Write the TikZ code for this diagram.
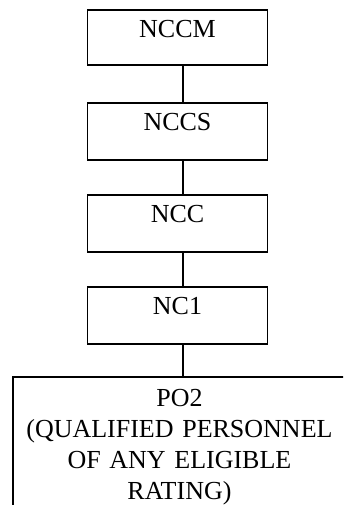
\documentclass[tikz,border=0pt]{standalone}
\usepackage{fontspec}
\setmainfont{Liberation Serif}
\usetikzlibrary{calc}

\tikzset{
  rank/.style={draw=black, line width=1.9pt, inner sep=0pt, text width=180pt,
    align=center, text height=28pt, text depth=29pt,
    font=\fontsize{26}{31}\selectfont},
  link/.style={draw=black, line width=1.9pt}
}

\begin{document}
\begin{tikzpicture}[x=1pt,y=-1pt]

\useasboundingbox (0,0) rectangle (343,505);
\clip (0,0) rectangle (343,505);

%RANKS
\node[rank, anchor=north, text depth=27pt] (nccm) at (177.5,9) {NCCM};
\node[rank, anchor=north] (nccs) at (177.5,102) {NCCS};
\node[rank, anchor=north] (ncc) at (177.5,194) {NCC};
\node[rank, anchor=north] (nc1) at (177.5,286) {NC1};

%ENTRY LEVEL
\node[rank, anchor=north west, text width=333pt, text height=30pt, text depth=160pt] (po2) at (12,376)
  {PO2\\(QUALIFIED PERSONNEL\\OF ANY ELIGIBLE\\RATING)};

%%%%%%%%%%%%%%%%
\draw[link] ([xshift=5.5pt]nccm.south) -- ([xshift=5.5pt]nccs.north);
\draw[link] ([xshift=5.5pt]nccs.south) -- ([xshift=5.5pt]ncc.north);
\draw[link] ([xshift=5.5pt]ncc.south) -- ([xshift=5.5pt]nc1.north);
\draw[link] ([xshift=5.5pt]nc1.south) -- ([xshift=5.5pt]nc1.south |- po2.north);
\end{tikzpicture}
\end{document}
